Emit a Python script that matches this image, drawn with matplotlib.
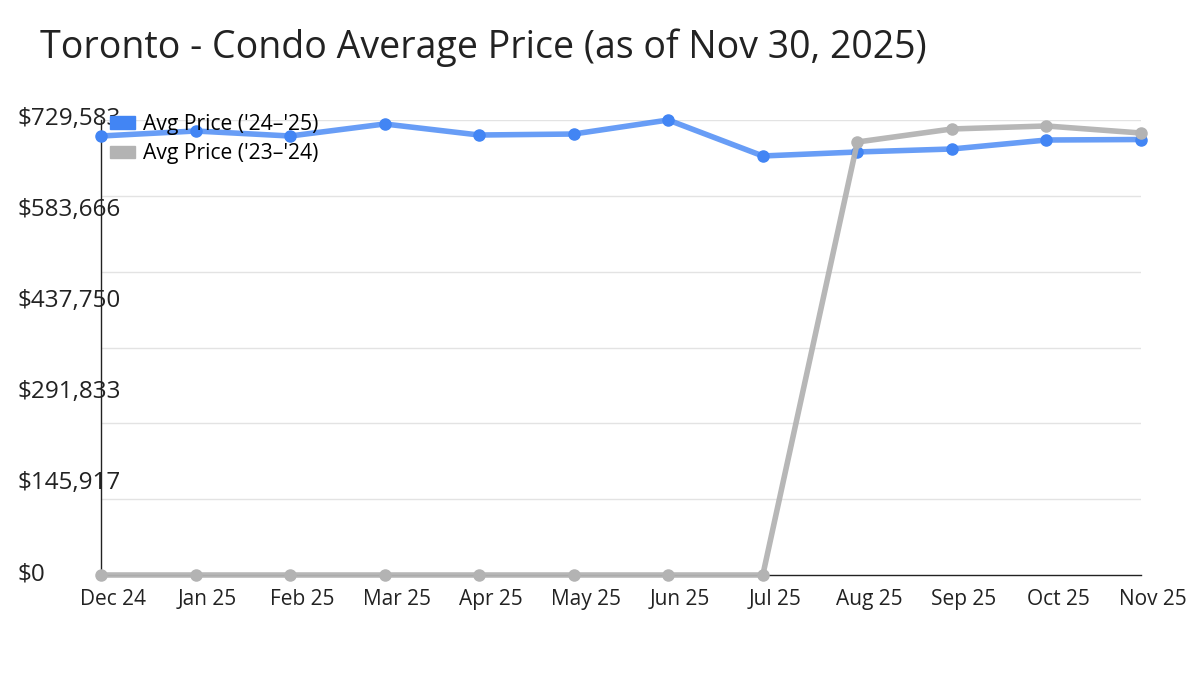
import numpy as np
import matplotlib
matplotlib.use("Agg")
import matplotlib.pyplot as plt
import matplotlib.transforms as mtransforms
from matplotlib.patches import Patch

plt.rcParams['font.family'] = ['Open Sans', 'DejaVu Sans']

# Datos
months = ['Dec 24', 'Jan 25', 'Feb 25', 'Mar 25', 'Apr 25', 'May 25',
          'Jun 25', 'Jul 25', 'Aug 25', 'Sep 25', 'Oct 25', 'Nov 25']
price_24_25 = [703900, 711950, 703900, 723200, 705500, 707100,
               729583, 671900, 678300, 683100, 697500, 698300]
price_23_24 = [0, 0, 0, 0, 0, 0, 0, 0, 694300, 715200, 720000, 708700]
ymax = 729583
ytick_vals = [0, 145917, 291833, 437750, 583666, 729583]

blue = '#4285F4'
grey = '#B3B3B3'

fig = plt.figure(figsize=(12, 6.75), dpi=100)
ax = fig.add_axes([101 / 1200, 1 - 575 / 675, 1040 / 1200, 455 / 675])

x = np.arange(len(months))

# lineas de cuadricula (6 divisiones, distintas de las etiquetas)
for g in np.linspace(0, ymax, 7)[1:]:
    ax.axhline(g, color='#e3e3e3', lw=1, zorder=0)

ax.plot(x, price_24_25, color=blue, lw=4, alpha=0.8, solid_capstyle='round',
        zorder=3, clip_on=False)
ax.plot(x, price_24_25, 'o', color=blue, ms=8, zorder=4, clip_on=False)
ax.plot(x, price_23_24, color=grey, lw=4, alpha=0.95, solid_capstyle='round',
        zorder=5, clip_on=False)
ax.plot(x, price_23_24, 'o', color=grey, ms=8, zorder=6, clip_on=False)

ax.set_xlim(0, len(months) - 1)
ax.set_ylim(0, ymax)
ax.set_xticks(x)
ax.set_xticklabels(months, fontsize=15, color='#222222')
ax.set_yticks(ytick_vals)
ax.set_yticklabels([f'${v:,}' for v in ytick_vals], fontsize=17.5,
                   color='#222222', ha='left')
ax.tick_params(axis='y', length=0, pad=60)
ax.tick_params(axis='x', length=0, pad=10)

# etiquetas corridas un poco, como en el original
shift_x = mtransforms.ScaledTranslation(12 / 100, 0, fig.dpi_scale_trans)
for lab in ax.get_xticklabels():
    lab.set_transform(lab.get_transform() + shift_x)
shift_y = mtransforms.ScaledTranslation(0, 4 / 100, fig.dpi_scale_trans)
for lab in ax.get_yticklabels():
    lab.set_transform(lab.get_transform() + shift_y)

for s in ['top', 'right']:
    ax.spines[s].set_visible(False)
ax.spines['left'].set_color('#222222')
ax.spines['left'].set_linewidth(1)
ax.spines['bottom'].set_color('#222222')
ax.spines['bottom'].set_linewidth(1)

handles = [Patch(color=blue, label="Avg Price ('24\u2013'25)"),
           Patch(color=grey, label="Avg Price ('23\u2013'24)")]
fig.legend(handles=handles, loc='upper left',
           bbox_to_anchor=(110 / 1200, 1 - 114 / 675), frameon=False,
           fontsize=15.2, handlelength=1.2, handleheight=0.5,
           handletextpad=0.35, labelspacing=0.4, borderaxespad=0,
           borderpad=0)

fig.text(40 / 1200, 1 - 48 / 675,
         'Toronto - Condo Average Price (as of Nov 30, 2025)',
         fontsize=27, va='center', ha='left', color='#222222')

fig.savefig('out.png', dpi=100)
